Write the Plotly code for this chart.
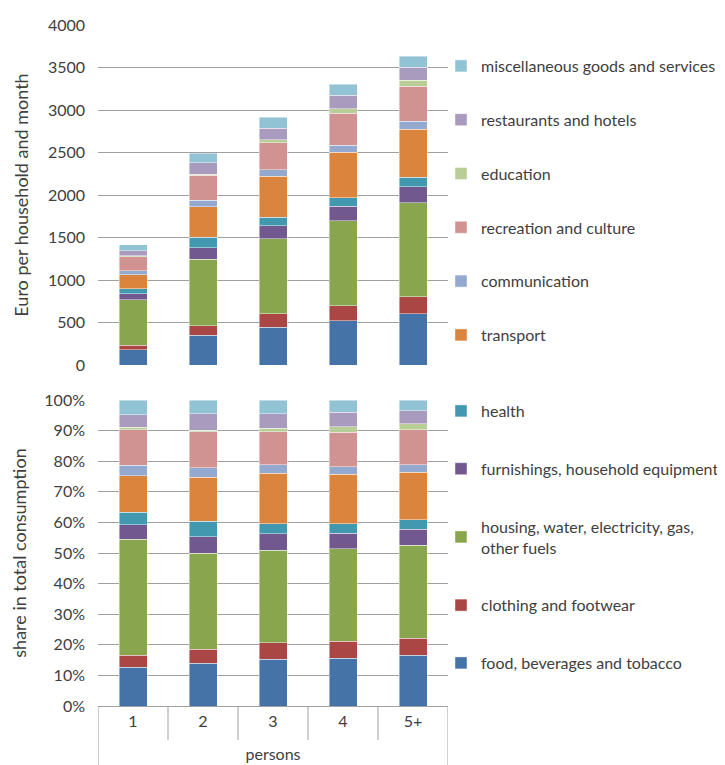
import plotly.graph_objects as go

categories = ["1", "2", "3", "4", "5+"]

# Euro per household and month
food = [180, 349, 447, 518, 604]
clothing = [55, 114, 157, 181, 201]
housing = [534, 781, 880, 997, 1103]
furnishings = [67, 134, 157, 172, 188]
health = [59, 125, 98, 98, 114]
transport = [169, 361, 479, 538, 565]
communication = [47, 75, 82, 79, 90]
recreation = [165, 294, 314, 376, 412]
education = [11, 12, 35, 55, 71]
restaurants = [59, 137, 134, 161, 153]
miscellaneous = [67, 110, 133, 130, 130]

series_names = [
    "food, beverages and tobacco",
    "clothing and footwear",
    "housing, water, electricity, gas,<br>other fuels",
    "furnishings, household equipment",
    "health",
    "transport",
    "communication",
    "recreation and culture",
    "education",
    "restaurants and hotels",
    "miscellaneous goods and services",
]
series_values = [food, clothing, housing, furnishings, health, transport,
                 communication, recreation, education, restaurants, miscellaneous]
series_colors = ["#4572A7", "#AA4643", "#89A54E", "#71588F", "#4198AF", "#DB843D",
                 "#93A9CF", "#D19392", "#B9CD96", "#A99BBD", "#92C3D4"]
top_legend_series = set(range(5, 11))   # transport .. miscellaneous

totals = [sum(v[i] for v in series_values) for i in range(len(categories))]

FONT = "Lato"
TXT = "#404040"
GRID = "#A0A0A0"

fig = go.Figure()
for idx, (name, vals, col) in enumerate(zip(series_names, series_values, series_colors)):
    shares = [v / t * 100 for v, t in zip(vals, totals)]
    rank = 100 - idx
    fig.add_trace(go.Bar(
        x=categories, y=vals, name=name, xaxis="x", yaxis="y",
        marker=dict(color=col, line=dict(color="rgba(255,255,255,0.55)", width=0.8)),
        legend="legend", showlegend=idx in top_legend_series,
        legendgroup="g%d" % idx, legendrank=rank,
    ))
    fig.add_trace(go.Bar(
        x=categories, y=shares, name=name, xaxis="x2", yaxis="y2",
        marker=dict(color=col, line=dict(color="rgba(255,255,255,0.55)", width=0.8)),
        legend="legend2", showlegend=idx not in top_legend_series,
        legendgroup="g%d" % idx, legendrank=rank,
    ))

plot_h = 765 - 17 - 67
top_dom = [(698 - 357) / plot_h, 1.0]
bot_dom = [0.0, (698 - 392) / plot_h]

shapes = []
# category boundary lines below the bottom axis
for b in [0.5, 1.5, 2.5, 3.5]:
    shapes.append(dict(type="line", xref="x2", yref="paper", x0=b, x1=b,
                       y0=0, y1=-34 / plot_h, line=dict(color=GRID, width=1)))
for b in [-0.5, 4.5]:
    shapes.append(dict(type="line", xref="x2", yref="paper", x0=b, x1=b,
                       y0=0, y1=-67 / plot_h, line=dict(color=GRID, width=1)))

fig.update_layout(
    width=725, height=765,
    margin=dict(l=90, r=285, t=17, b=67, autoexpand=False),
    paper_bgcolor="white", plot_bgcolor="white",
    barmode="stack", bargap=0.6,
    font=dict(family=FONT, size=16, color=TXT),
    xaxis=dict(domain=[0, 1], anchor="y", type="category", range=[-0.5, 4.5],
               showticklabels=False, showgrid=False, zeroline=False, showline=False,
               automargin=False),
    yaxis=dict(domain=top_dom, anchor="x", range=[0, 4000], dtick=500,
               showgrid=True, gridcolor=GRID, gridwidth=1, zeroline=False,
               showline=False, ticks="", automargin=False, ticklabelstandoff=12,
               tickfont=dict(family=FONT, size=16, color=TXT),
               title=dict(text="Euro per household and month", standoff=14,
                          font=dict(family=FONT, size=18, color=TXT))),
    xaxis2=dict(domain=[0, 1], anchor="y2", type="category", range=[-0.5, 4.5],
                showgrid=False, zeroline=False, showline=True, linecolor=GRID,
                ticks="", automargin=False, ticklabelstandoff=1,
                tickfont=dict(family=FONT, size=16, color=TXT),
                title=dict(text="persons", standoff=19,
                           font=dict(family=FONT, size=16, color=TXT))),
    yaxis2=dict(domain=bot_dom, anchor="x2", range=[0, 100], dtick=10,
                ticksuffix="%", showgrid=True, gridcolor=GRID, gridwidth=1,
                zeroline=False, showline=False, ticks="", automargin=False,
                ticklabelstandoff=12,
                tickfont=dict(family=FONT, size=16, color=TXT),
                title=dict(text="share in total consumption", standoff=14,
                           font=dict(family=FONT, size=18, color=TXT))),
    legend=dict(x=(433 - 90) / 350, xanchor="left", y=(698 - 41) / plot_h, yanchor="top",
                traceorder="grouped", tracegroupgap=30,
                font=dict(family=FONT, size=16, color=TXT), bgcolor="rgba(0,0,0,0)"),
    legend2=dict(x=(433 - 90) / 350, xanchor="left", y=(698 - 386) / plot_h, yanchor="top",
                 traceorder="grouped", tracegroupgap=34,
                 font=dict(family=FONT, size=16, color=TXT), bgcolor="rgba(0,0,0,0)"),
    shapes=shapes,
)

fig.write_html("out.html")
